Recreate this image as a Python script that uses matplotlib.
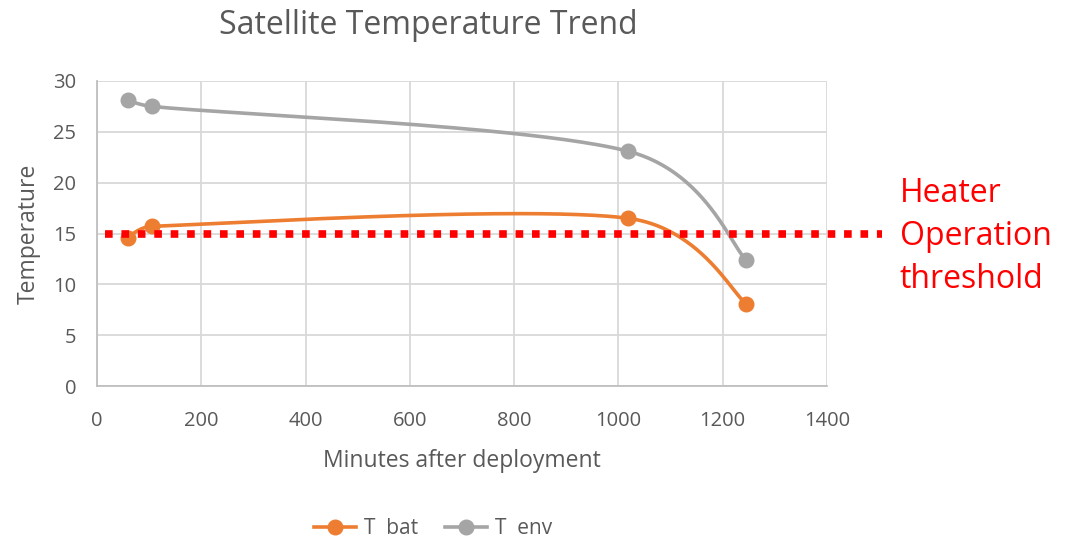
import numpy as np
import matplotlib
matplotlib.use("Agg")
import matplotlib.pyplot as plt
from matplotlib.lines import Line2D

plt.rcParams['font.family'] = ['Open Sans', 'DejaVu Sans']

minutes = [60, 105, 1018, 1245]
t_bat = [14.6, 15.7, 16.5, 8.1]
t_env = [28.1, 27.5, 23.1, 12.4]
threshold = 15
threshold_span = [15, 1505]
series_names = ["T  bat", "T  env"]
x_ticks = [0, 200, 400, 600, 800, 1000, 1200, 1400]
y_ticks = [0, 5, 10, 15, 20, 25, 30]

ORANGE = "#ED7D31"
GRAY = "#A5A5A5"
TXT = "#595959"
GRID = "#D9D9D9"

# pixel scale of the plot area (smoothing is done in screen space, like a spreadsheet does)
SX = 730 / 1400.0
SY = 305 / 30.0


def smooth(xs, ys, n=80):
    p = np.column_stack([np.asarray(xs, float) * SX, np.asarray(ys, float) * SY])
    m = len(p)
    ext = np.vstack([p[0], p, p[-1]])
    dist = lambda a, b: float(np.linalg.norm(a - b))
    out = []
    for i in range(m - 1):
        p0, p1, p2, p3 = ext[i], ext[i + 1], ext[i + 2], ext[i + 3]
        d12 = dist(p1, p2)
        d02 = dist(p0, p2)
        d13 = dist(p1, p3)
        f1 = 1 / 3 if np.allclose(p0, p1) else 1 / 6
        f2 = 1 / 3 if np.allclose(p2, p3) else 1 / 6
        a = d02 * f1 >= d12 / 2
        b = d13 * f2 >= d12 / 2
        if not a and not b:
            c1 = p1 + (p2 - p0) * f1
            c2 = p2 - (p3 - p1) * f2
        elif a and b:
            c1 = p1 + (p2 - p0) * (d12 / 2 / d02)
            c2 = p2 - (p3 - p1) * (d12 / 2 / d13)
        elif a:
            k = d12 / 2 / d02
            c1 = p1 + (p2 - p0) * k
            c2 = p2 - (p3 - p1) * k
        else:
            k = d12 / 2 / d13
            c1 = p1 + (p2 - p0) * k
            c2 = p2 - (p3 - p1) * k
        t = np.linspace(0, 1, n)[:, None]
        seg = ((1 - t) ** 3) * p1 + 3 * ((1 - t) ** 2) * t * c1 + 3 * (1 - t) * t ** 2 * c2 + t ** 3 * p2
        out.append(seg if i == 0 else seg[1:])
    s = np.vstack(out)
    return s[:, 0] / SX, s[:, 1] / SY


fig = plt.figure(figsize=(10.68, 5.38), dpi=100)
ax = fig.add_axes([97 / 1068, 1 - 386 / 538, (827 - 97) / 1068, (386 - 81) / 538])

for ys, col in [(t_bat, ORANGE), (t_env, GRAY)]:
    sx, sy = smooth(minutes, ys)
    ax.plot(sx, sy, color=col, lw=2.6, zorder=3, solid_capstyle='round')
    ax.plot(minutes, ys, 'o', color=col, ms=10.5, zorder=4)

ax.plot(threshold_span, [threshold, threshold], color="#FF0000", lw=5.5,
        linestyle=(0, (1.0, 1.15)), clip_on=False, zorder=5)

ax.set_xlim(0, 1400)
ax.set_ylim(0, 30)
ax.set_xticks(x_ticks)
ax.set_yticks(y_ticks)
ax.grid(True, color=GRID, lw=1.3)
ax.set_axisbelow(True)
for s in ['top', 'right']:
    ax.spines[s].set_visible(False)
for s in ['left', 'bottom']:
    ax.spines[s].set_color("#BFBFBF")
    ax.spines[s].set_linewidth(1.3)
ax.tick_params(length=0, labelsize=14.5, colors=TXT)
ax.tick_params(axis='y', pad=15)
ax.tick_params(axis='x', pad=18)

ax.set_xlabel("Minutes after deployment", fontsize=16.5, color=TXT, labelpad=13)
ax.set_ylabel("Temperature", fontsize=16.5, color=TXT, labelpad=9)

fig.text(428 / 1068, 1 - 25 / 538, "Satellite Temperature Trend", fontsize=23,
         color=TXT, ha='center', va='center')

fig.text(900 / 1068, 1 - 236 / 538, "Heater\nOperation\nthreshold", fontsize=23,
         color="#FF0000", ha='left', va='center', linespacing=1.4)

handles = [Line2D([], [], color=ORANGE, lw=2.6, marker='o', ms=10.5),
           Line2D([], [], color=GRAY, lw=2.6, marker='o', ms=10.5)]
fig.legend(handles, series_names, loc='center', bbox_to_anchor=(433 / 1068, 1 - 529 / 538),
           ncol=2, frameon=False, fontsize=15, labelcolor=TXT, handlelength=2.0,
           columnspacing=1.3, handletextpad=0.4)

fig.savefig("out.png", dpi=100)
